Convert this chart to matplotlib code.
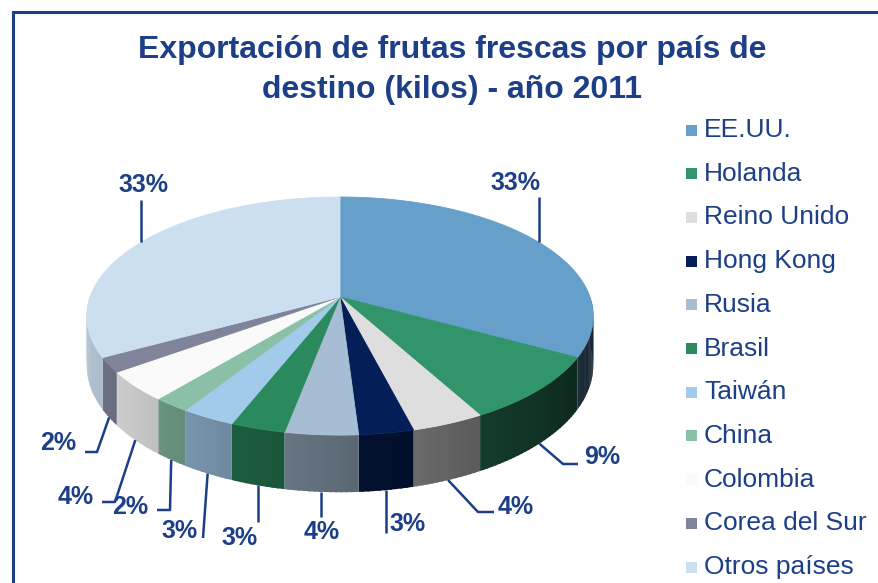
import numpy as np
import matplotlib
matplotlib.use("Agg")
import matplotlib.pyplot as plt
from matplotlib.patches import Polygon
from matplotlib.colors import to_rgb

plt.rcParams['font.family'] = ['Liberation Sans', 'DejaVu Sans']

# ---------------- data ----------------
countries = ["EE.UU.", "Holanda", "Reino Unido", "Hong Kong", "Rusia", "Brasil",
             "Taiwán", "China", "Colombia", "Corea del Sur", "Otros países"]
shares = [33, 9, 4, 3, 4, 3, 3, 2, 4, 2, 33]
title = "Exportación de frutas frescas por país de\ndestino (kilos) - año 2011"

# ---------------- style / layout ----------------
colors = ["#659fca", "#31946b", "#dedede", "#041f57", "#a6bdd4", "#2a8a5d",
          "#a2cbeb", "#8ac1a6", "#fafafa", "#7f849b", "#ccdff0"]
TXT = "#1c3f87"
CX, CY, A, B, K, H = 340.0, 297.0, 250.0, 116.0, 0.16, 48.0

# label text centres and leader-line waypoints (pixels)
label_pos = [(515, 183), (602, 457), (516, 507), (408, 524), (322, 532), (240, 538),
             (180, 531), (130, 507), (76, 497), (58, 443), (143, 185)]
leader_way = [[(None, 197)], [(563, 464), (578, 464)], [(478, 512), (494, 512)],
              [(None, 533)], [(None, 517)], [(None, 522)], [(203, 538)],
              [(170, 510), (157, 510)], [(115, 502), (102, 502)],
              [(97, 452), (85, 452)], [(None, 200)]]


def proj(theta, z=0.0):
    t = np.radians(theta)
    c, s = np.cos(t), np.sin(t)
    sc = 1.0 / (1.0 + K * c)
    return CX + A * s * sc, CY - B * c * sc + z * H * sc


def shade(col, theta):
    f = 0.56 - 0.32 * np.sin(np.radians(theta))
    r, g, b = to_rgb(col)
    return (r * f, g * f, b * f)


fig = plt.figure(figsize=(8.79, 5.83), dpi=100)
ax = fig.add_axes([0, 0, 1, 1])
ax.set_xlim(0, 879)
ax.set_ylim(583, 0)
ax.axis("off")

total = float(sum(shares))
bounds = np.concatenate([[0], np.cumsum(shares)]) / total * 360.0

# side faces
for i in range(len(shares)):
    a0, a1 = max(bounds[i], 90.0), min(bounds[i + 1], 270.0)
    if a1 <= a0:
        continue
    n = max(2, int((a1 - a0) / 1.0) + 1)
    ts = np.linspace(a0, a1, n)
    for t0, t1 in zip(ts[:-1], ts[1:]):
        t1e = min(t1 + 0.5, a1)
        pts = [proj(t0), proj(t1e), proj(t1e, 1), proj(t0, 1)]
        c = shade(colors[i], 0.5 * (t0 + t1))
        ax.add_patch(Polygon(pts, closed=True, facecolor=c, edgecolor="none", lw=0))

# top faces
for i in range(len(shares)):
    ts = np.linspace(bounds[i], bounds[i + 1], max(2, int(bounds[i + 1] - bounds[i]) + 2))
    pts = [(CX, CY)] + [proj(t) for t in ts]
    ax.add_patch(Polygon(pts, closed=True, facecolor=colors[i], edgecolor=colors[i], lw=0.6))

# labels and leaders
for i in range(len(shares)):
    mid = 0.5 * (bounds[i] + bounds[i + 1])
    front = np.cos(np.radians(mid)) < 0
    sx, sy = proj(mid, 1 if front else 0)
    xs, ys = [sx], [sy]
    for wx, wy in leader_way[i]:
        xs.append(xs[-1] if wx is None else wx)
        ys.append(wy)
    ax.plot(xs, ys, color=TXT, lw=1.8, solid_capstyle="butt")
    pct = shares[i] / total * 100
    ax.text(label_pos[i][0], label_pos[i][1], f"{pct:.0f}%", color=TXT,
            fontsize=18, fontweight="bold", ha="center", va="center")

# title
lines = title.split("\n")
for j, ln in enumerate(lines):
    ax.text(452, 50 + 40 * j, ln, color=TXT, fontsize=23, fontweight="bold",
            ha="center", va="center")

# legend
for i, name in enumerate(countries):
    y = 130 + i * 43.7
    ax.add_patch(Polygon([(686, y - 5.5), (697, y - 5.5), (697, y + 5.5), (686, y + 5.5)],
                         closed=True, facecolor=colors[i], edgecolor="none"))
    ax.text(704, y, name, color=TXT, fontsize=19, ha="left", va="center")

# frame
ax.plot([13, 13, 879], [583, 12, 12], color=TXT, lw=2.2, solid_joinstyle="miter")

fig.savefig("out.png", dpi=100)
